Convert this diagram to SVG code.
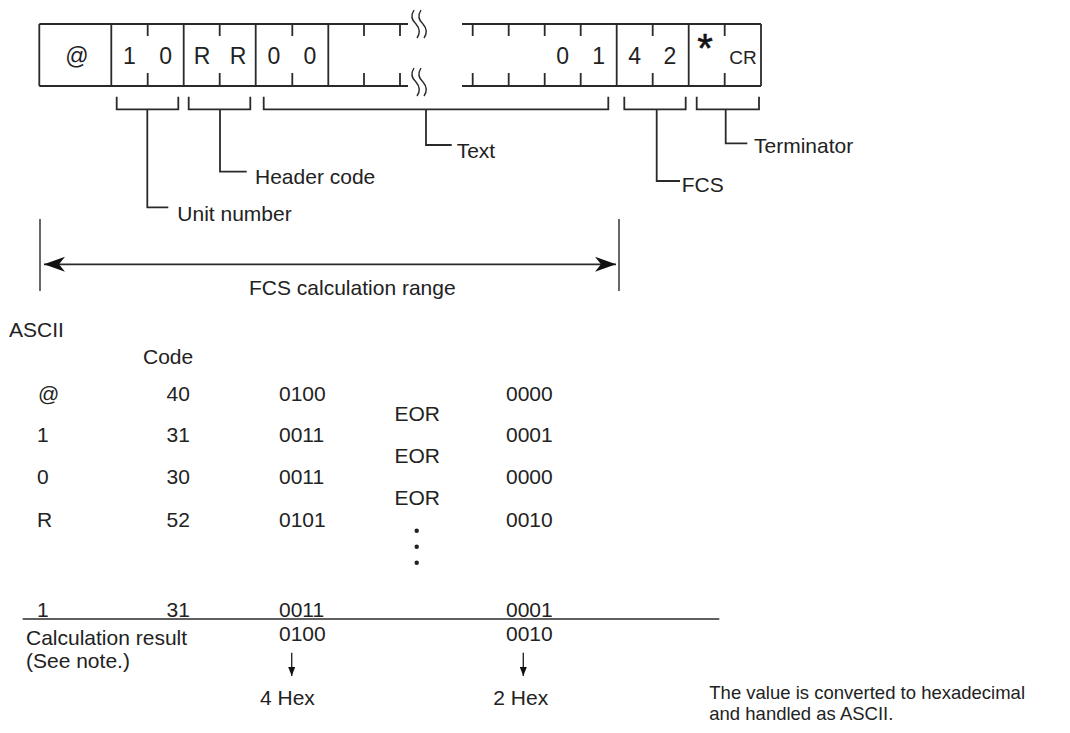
<svg xmlns="http://www.w3.org/2000/svg" width="1070" height="733" viewBox="0 0 1070 733">
<defs>
<style>
.ln{fill:none;stroke:#2a2a2a;stroke-width:1.8;stroke-linecap:butt}
.tn{fill:none;stroke:#2a2a2a;stroke-width:1.4}
.t{font-family:"Liberation Sans",Arial,sans-serif;font-size:21px;fill:#222}
.n{font-family:"Liberation Sans",Arial,sans-serif;font-size:18.5px;fill:#222}
.c{font-family:"Liberation Sans",Arial,sans-serif;font-size:23px;fill:#222;text-anchor:middle}
</style>
<marker id="bigArrow" markerUnits="userSpaceOnUse" markerWidth="24" markerHeight="18" viewBox="-22 -9 24 18" refX="0" refY="0" orient="auto-start-reverse">
<path d="M0,0 L-21,-7.5 L-15,0 L-21,7.5 Z" fill="#111"/>
</marker>
<marker id="smallArrow" markerUnits="userSpaceOnUse" markerWidth="12" markerHeight="10" viewBox="-10 -5 12 10" refX="0" refY="0" orient="auto">
<path d="M0,0 L-9,-3.5 L-9,3.5 Z" fill="#111"/>
</marker>
</defs>
<rect width="1070" height="733" fill="#fff"/>

<g id="frame">
<path class="ln" d="M39.3,24 H408 M462,24 H761 M39.3,86 H408 M462,86 H761"/>
<path class="ln" d="M39.3,24 V86 M111.3,24 V86 M183.7,24 V86 M255.7,24 V86 M328.3,24 V86 M616.7,24 V86 M688.7,24 V86 M761,24 V86"/>
<path class="ln" d="M147.7,24 v12 M219.7,24 v12 M292.3,24 v12 M364,24 v12 M400,24 v12 M472.7,24 v12 M508.7,24 v12 M544.7,24 v12 M580.7,24 v12 M652.7,24 v12 M724.7,24 v12
M147.7,86 v-13 M219.7,86 v-13 M292.3,86 v-13 M364,86 v-13 M400,86 v-13 M472.7,86 v-13 M508.7,86 v-13 M544.7,86 v-13 M580.7,86 v-13 M652.7,86 v-13 M724.7,86 v-13"/>
<path class="tn" d="M414,10 Q409,18 416,24 Q422,31 417,38 M421,10 Q416,18 423,24 Q429,31 424,38"/>
<path class="tn" d="M414,68 Q409,76 416,82 Q422,89 417,96 M421,68 Q416,76 423,82 Q429,89 424,96"/>
<text class="c" x="77" y="64" font-size="25">@</text>
<text class="c" x="129.5" y="64">1</text>
<text class="c" x="165.7" y="64">0</text>
<text class="c" x="202" y="64">R</text>
<text class="c" x="238" y="64">R</text>
<text class="c" x="274" y="64">0</text>
<text class="c" x="310" y="64">0</text>
<text class="c" x="562.7" y="64">0</text>
<text class="c" x="598.7" y="64">1</text>
<text class="c" x="634.7" y="64">4</text>
<text class="c" x="670" y="64">2</text>
<text x="705" y="62" font-family="Liberation Sans,Arial,sans-serif" font-size="40" fill="#111" text-anchor="middle" stroke="#111" stroke-width="0.6">*</text>
<text x="743" y="64" font-family="Liberation Sans,Arial,sans-serif" font-size="19" fill="#222" text-anchor="middle">CR</text>
</g>

<g id="connectors">
<path class="ln" d="M116.7,96.7 V109.3 H178.3 V96.7 M147.3,109.3 V207.3 H168.3"/>
<path class="ln" d="M188.7,96.7 V109.3 H250.3 V96.7 M220,109.3 V171.7 H246.7"/>
<path class="ln" d="M263.7,96.7 V109.3 H608.3 V96.7 M426,109.3 V145 H451.7"/>
<path class="ln" d="M624.3,96.7 V109.3 H685.7 V96.7 M656.7,109.3 V181 H680"/>
<path class="ln" d="M696.7,96.7 V109.3 H759 V96.7 M725.7,109.3 V143.3 H747.3"/>
<path class="tn" d="M40,219 V291 M619,219 V291"/>
<path class="ln" d="M44,264.3 H616" marker-start="url(#bigArrow)" marker-end="url(#bigArrow)"/>
<path class="tn" d="M22.7,619 H719.3"/>
<path class="tn" d="M291.7,652.7 V676" marker-end="url(#smallArrow)"/>
<path class="tn" d="M523.3,652.7 V676" marker-end="url(#smallArrow)"/>
</g>

<g id="labels">
<text class="t" x="177.3" y="220.7">Unit number</text>
<text class="t" x="255" y="184">Header code</text>
<text class="t" x="456.7" y="158.3">Text</text>
<text class="t" x="681.7" y="191.7">FCS</text>
<text class="t" x="754" y="152.7">Terminator</text>
<text class="t" x="249" y="295">FCS calculation range</text>
</g>

<g id="table">
<text class="t" x="9" y="337">ASCII</text>
<text class="t" x="143" y="364">Code</text>
<text class="t" x="38" y="401">@</text>
<text class="t" x="166.5" y="401">40</text>
<text class="t" x="279" y="401">0100</text>
<text class="t" x="506" y="401">0000</text>
<text class="t" x="394.5" y="421">EOR</text>
<text class="t" x="37" y="442">1</text>
<text class="t" x="166.5" y="442">31</text>
<text class="t" x="279" y="442">0011</text>
<text class="t" x="506" y="442">0001</text>
<text class="t" x="394.5" y="463">EOR</text>
<text class="t" x="37" y="484">0</text>
<text class="t" x="166.5" y="484">30</text>
<text class="t" x="279" y="484">0011</text>
<text class="t" x="506" y="484">0000</text>
<text class="t" x="394.5" y="505">EOR</text>
<text class="t" x="37" y="527">R</text>
<text class="t" x="166.5" y="527">52</text>
<text class="t" x="279" y="527">0101</text>
<text class="t" x="506" y="527">0010</text>
<circle cx="416.7" cy="530.7" r="2.2" fill="#222"/>
<circle cx="416.7" cy="546.7" r="2.2" fill="#222"/>
<circle cx="416.7" cy="562.7" r="2.2" fill="#222"/>
<text class="t" x="37" y="616.5">1</text>
<text class="t" x="166.5" y="616.5">31</text>
<text class="t" x="279" y="616.5">0011</text>
<text class="t" x="506" y="616.5">0001</text>
<text class="t" x="279" y="640.7">0100</text>
<text class="t" x="506" y="640.7">0010</text>
<text class="t" x="26" y="645">Calculation result</text>
<text class="t" x="26" y="668">(See note.)</text>
<text class="t" x="260" y="705">4 Hex</text>
<text class="t" x="493.3" y="705">2 Hex</text>
<text class="n" x="709.3" y="699">The value is converted to hexadecimal</text>
<text class="n" x="709.3" y="720">and handled as ASCII.</text>
</g>
</svg>
